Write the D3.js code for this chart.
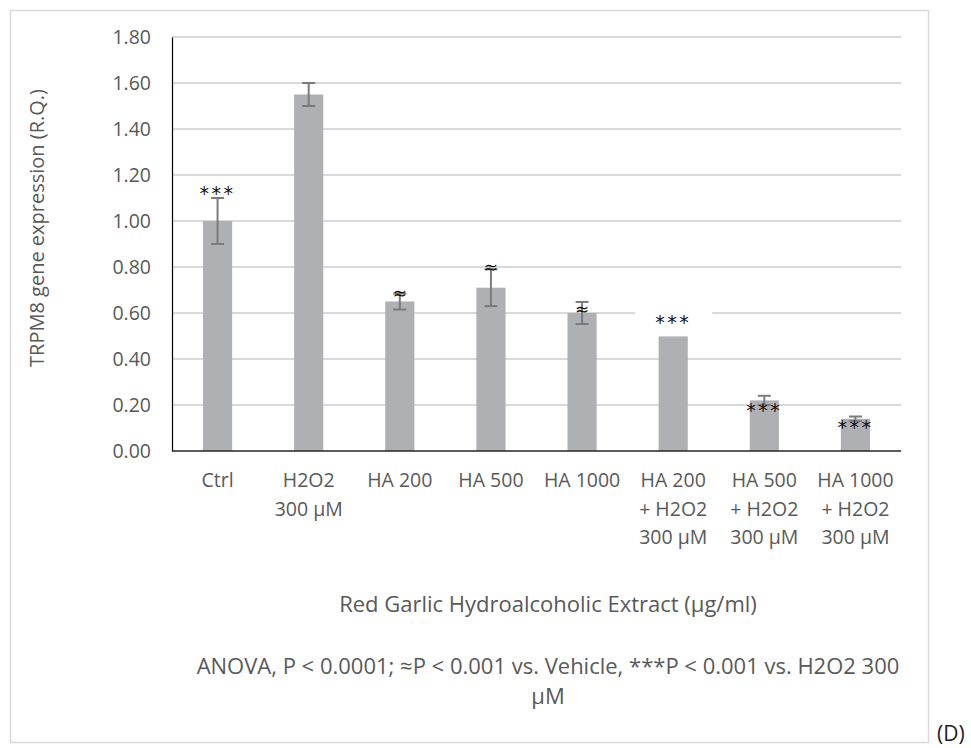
<!DOCTYPE html>
<html lang="en">
<head>
  <meta charset="UTF-8">
  <title>TRPM8 gene expression</title>
  <script src="https://d3js.org/d3.v7.min.js"></script>
  <style>
    body {
      margin: 0;
      background-color: #fff;
    }
    svg text {
      font-family: "Open Sans", "Liberation Sans", sans-serif;
    }
  </style>
</head>
<body>
  <svg width="971" height="748"></svg>

  <script>
  // values
  const categories = ["Ctrl", "H2O2 300 µM", "HA 200", "HA 500", "HA 1000",
    "HA 200 + H2O2 300 µM", "HA 500 + H2O2 300 µM", "HA 1000 + H2O2 300 µM"];
  const labelLines = [
    ["Ctrl"],
    ["H2O2", "300 µM"],
    ["HA 200"],
    ["HA 500"],
    ["HA 1000"],
    ["HA 200", "+ H2O2", "300 µM"],
    ["HA 500", "+ H2O2", "300 µM"],
    ["HA 1000", "+ H2O2", "300 µM"]
  ];
  const expression = [1.00, 1.55, 0.65, 0.71, 0.60, 0.52, 0.22, 0.14];
  const errors = [0.10, 0.05, 0.035, 0.08, 0.048, 0, 0.02, 0.01];
  const signif = ["***", "", "≈", "≈", "≈", "***", "***", "***"];
  const yTicks = [0, 0.2, 0.4, 0.6, 0.8, 1.0, 1.2, 1.4, 1.6, 1.8];

  // where each significance mark sits, in px from the top of its error bar
  const sigDy = [-7, 0, 0, -2, 7, -11, 12, 8];
  const sigBoxed = [false, false, false, false, false, true, false, false];

  const svg = d3.select("svg");
  const plotLeft = 172, plotRight = 901, plotTop = 37, plotBottom = 451;
  const textGrey = "#595959";

  // chart frame
  svg.append("rect")
    .attr("x", 10.5)
    .attr("y", 10.5)
    .attr("width", 918)
    .attr("height", 732)
    .attr("fill", "none")
    .attr("stroke", "#d9d9d9")
    .attr("stroke-width", 1.5);

  const x = d3.scaleBand()
    .domain(categories)
    .range([plotLeft, plotRight])
    .paddingInner(0.68)
    .paddingOuter(0.34);

  const y = d3.scaleLinear()
    .domain([0, 1.8])
    .range([plotBottom, plotTop]);

  // gridlines
  svg.append("g")
    .selectAll("line")
    .data(yTicks.slice(1))
    .join("line")
    .attr("x1", plotLeft)
    .attr("x2", plotRight)
    .attr("y1", d => y(d))
    .attr("y2", d => y(d))
    .attr("stroke", "#d9d9d9")
    .attr("stroke-width", 2);

  // y axis
  const yAxis = svg.append("g")
    .attr("transform", `translate(${plotLeft},0)`)
    .call(d3.axisLeft(y).tickValues(yTicks).tickFormat(d3.format(".2f")).tickSize(0).tickPadding(21));
  yAxis.select(".domain").attr("stroke", "#000").attr("stroke-width", 1.2);
  yAxis.selectAll("text")
    .attr("font-size", "19.5px")
    .attr("fill", textGrey)
    .attr("font-family", "Open Sans");

  // bars
  svg.append("g")
    .selectAll("rect")
    .data(categories)
    .join("rect")
    .attr("x", d => x(d))
    .attr("width", x.bandwidth())
    .attr("y", (d, i) => y(expression[i]))
    .attr("height", (d, i) => y(0) - y(expression[i]))
    .attr("fill", "#afb0b3");

  // error bars
  const err = svg.append("g")
    .attr("stroke", "#7b7b7b")
    .attr("stroke-width", 2);
  categories.forEach((c, i) => {
    if (!errors[i]) return;
    const cx = x(c) + x.bandwidth() / 2;
    const hi = y(expression[i] + errors[i]);
    const lo = y(expression[i] - errors[i]);
    err.append("line").attr("x1", cx).attr("x2", cx).attr("y1", hi).attr("y2", lo);
    err.append("line").attr("x1", cx - 6.5).attr("x2", cx + 6.5).attr("y1", hi).attr("y2", hi);
    err.append("line").attr("x1", cx - 6.5).attr("x2", cx + 6.5).attr("y1", lo).attr("y2", lo);
  });

  // x axis line
  svg.append("line")
    .attr("x1", plotLeft)
    .attr("x2", plotRight)
    .attr("y1", plotBottom)
    .attr("y2", plotBottom)
    .attr("stroke", "#262626")
    .attr("stroke-width", 1.5);

  // significance marks
  const sig = svg.append("g");
  categories.forEach((c, i) => {
    if (!signif[i]) return;
    const cx = x(c) + x.bandwidth() / 2;
    const cy = y(expression[i] + errors[i]) + sigDy[i];
    if (sigBoxed[i]) {
      sig.append("rect")
        .attr("x", cx - 38)
        .attr("y", cy - 14)
        .attr("width", 77)
        .attr("height", 30)
        .attr("fill", "#fff");
    }
    const t = sig.append("text")
      .attr("x", cx)
      .attr("text-anchor", "middle")
      .attr("fill", "#111")
      .style("font-family", "DejaVu Sans")
      .text(signif[i]);
    if (signif[i] === "***") {
      t.attr("y", cy + 9).attr("font-size", "19px").attr("letter-spacing", "2.5px");
    } else {
      t.attr("y", cy + 6).attr("font-size", "17px");
    }
  });

  // category labels
  const xl = svg.append("g")
    .attr("fill", textGrey)
    .attr("font-size", "19.5px")
    .attr("text-anchor", "middle");
  categories.forEach((c, i) => {
    const cx = x(c) + x.bandwidth() / 2;
    const t = xl.append("text").attr("x", cx).attr("y", 487);
    labelLines[i].forEach((line, j) => {
      t.append("tspan")
        .attr("x", cx)
        .attr("dy", j === 0 ? 0 : 28.5)
        .text(line);
    });
  });

  // axis titles
  svg.append("text")
    .attr("transform", "translate(44,228) rotate(-90)")
    .attr("text-anchor", "middle")
    .attr("font-size", "20px")
    .attr("fill", textGrey)
    .text("TRPM8 gene expression (R.Q.)");

  svg.append("text")
    .attr("x", 548)
    .attr("y", 612)
    .attr("text-anchor", "middle")
    .attr("font-size", "22px")
    .attr("fill", textGrey)
    .text("Red Garlic Hydroalcoholic Extract (µg/ml)");

  const note = svg.append("text")
    .attr("x", 548)
    .attr("y", 674)
    .attr("text-anchor", "middle")
    .attr("font-size", "22px")
    .attr("fill", textGrey);
  note.append("tspan")
    .attr("x", 548)
    .text("ANOVA, P < 0.0001; ≈P < 0.001 vs. Vehicle, ***P < 0.001 vs. H2O2 300");
  note.append("tspan")
    .attr("x", 548)
    .attr("dy", 30)
    .text("µM");

  svg.append("text")
    .attr("x", 937)
    .attr("y", 741)
    .attr("font-size", "21px")
    .attr("fill", "#222")
    .text("(D)");
  </script>
</body>
</html>
